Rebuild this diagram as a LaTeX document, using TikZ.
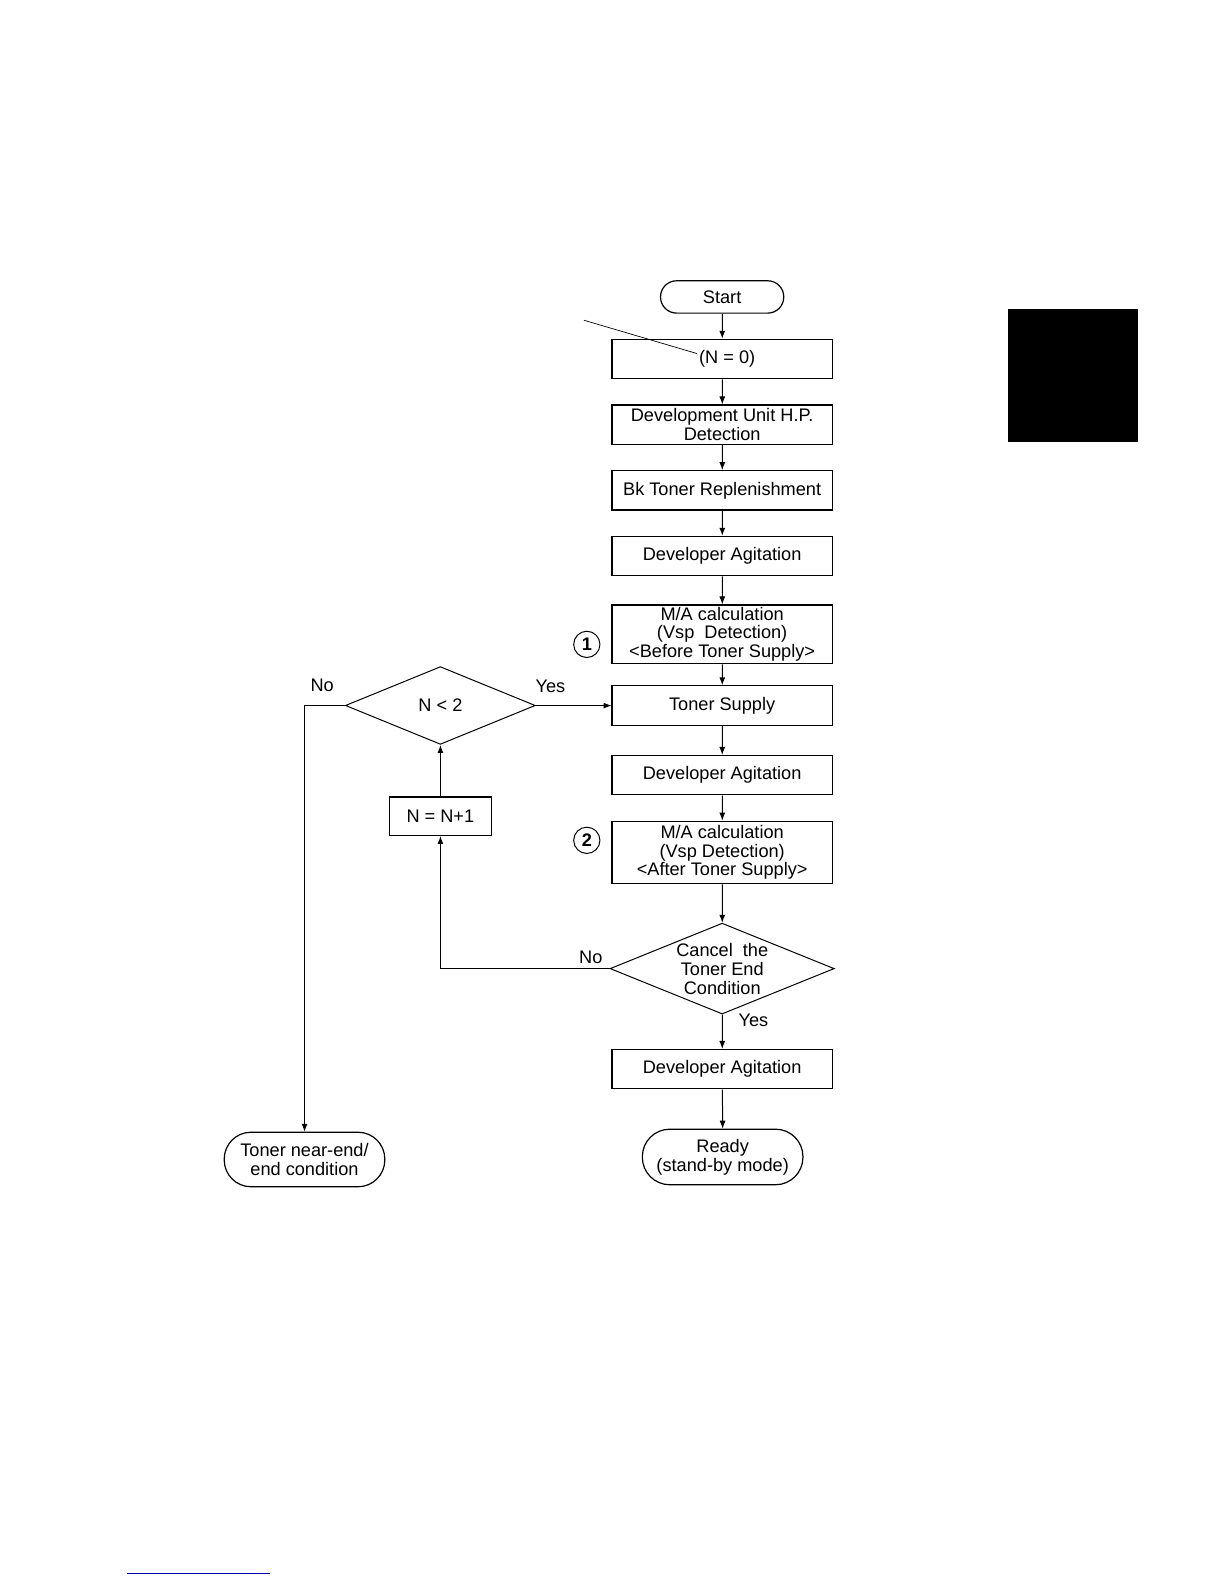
\documentclass[tikz,border=0pt]{standalone}
\usepackage{fontspec}
\setmainfont{Liberation Sans}
\usetikzlibrary{shapes.geometric,arrows.meta}
\begin{document}
\begin{tikzpicture}[x=0.5pt,y=-0.5pt,scale=1.01,transform shape,
  every node/.style={font=\fontsize{9}{9.3}\selectfont},
  procbox/.style={draw,line width=0.6pt,rectangle,minimum width=109pt,minimum height=19.5pt,inner sep=0pt,align=center},
  tallbox/.style={procbox,minimum height=29pt},
  term/.style={draw,line width=0.6pt,rectangle,inner sep=0pt,align=center},
  decision/.style={draw,line width=0.5pt,diamond,inner sep=0pt},
  numcirc/.style={draw,circle,line width=0.5pt,minimum size=13pt,inner sep=0pt,font=\bfseries\fontsize{9}{9}\selectfont},
  flow/.style={line width=0.5pt,-{Latex[length=4pt,width=3pt]}},
  lbl/.style={inner sep=0pt}
]
\useasboundingbox (0,0) rectangle (1211.88,1568.32);
% nodes
\node[term,minimum width=61pt,minimum height=16pt,rounded corners=8pt] (start) at (715,294) {Start};
\node[procbox] (n0) at (715,355.5) {\hspace*{5pt}(N = 0)};
\node[procbox] (hp) at (715,420.5) {Development Unit H.P.\\Detection};
\node[procbox] (bk) at (715,485.5) {Bk Toner Replenishment};
\node[procbox] (ag1) at (715,550.5) {Developer Agitation};
\node[tallbox] (ma1) at (715,628) {M/A calculation\\(Vsp\ \ Detection)\\\textless Before Toner Supply\textgreater};
\node[procbox] (ts) at (715,698.5) {Toner Supply};
\node[procbox] (ag2) at (715,767.5) {Developer Agitation};
\node[tallbox,minimum height=31pt] (ma2) at (715,844) {M/A calculation\\(Vsp Detection)\\\textless After Toner Supply\textgreater};
\node[procbox] (ag3) at (715,1058.5) {Developer Agitation};
\node[term,minimum width=79.5pt,minimum height=27.5pt,rounded corners=13.7pt] (ready) at (715.5,1145.5) {Ready\\(stand-by mode)};
\node[term,minimum width=79.5pt,minimum height=27pt,rounded corners=13.4pt] (tn) at (301.5,1148) {Toner near-end/\\end condition};
\node[decision,minimum width=94pt,minimum height=38.5pt,label={center:N \textless{} 2}] (d1) at (436,698.5) {};
\node[decision,minimum width=111pt,minimum height=45pt,label={[align=center,font=\fontsize{9}{9.3}\selectfont]center:{Cancel\ \ the\\Toner End\\Condition}}] (d2) at (715,959) {};
\node[procbox,minimum width=50.5pt,minimum height=19pt] (inc) at (436,808) {N = N+1};
\node[numcirc] (c1) at (581,638) {1};
\node[numcirc] (c2) at (581,832) {2};
% labels
\node[lbl] (lno1) at (319,679) {No};
\node[lbl] (lyes1) at (545,680) {Yes};
\node[lbl] (lno2) at (585,948) {No};
\node[lbl] (lyes2) at (746,1010) {Yes};
% connectors
\draw[flow] (start) -- (n0);
\draw[flow] (n0) -- (hp);
\draw[flow] (hp) -- (bk);
\draw[flow] (bk) -- (ag1);
\draw[flow] (ag1) -- (ma1);
\draw[flow] (ma1) -- (ts);
\draw[flow] (ts) -- (ag2);
\draw[flow] (ag2) -- (ma2);
\draw[flow] (ma2) -- (d2.north);
\draw[flow] (d2.south) -- (ag3);
\draw[flow] (ag3) -- (ready);
\draw[flow] (d1.east) -- (ts.west);
\draw[flow] (d1.west) -| (tn.north);
\draw[flow] (d2.west) -| (inc.south);
\draw[flow] (inc.north) -- (d1.south);
% leader line
\coordinate (leadA) at (578,317);
\coordinate (leadB) at (690,350);
\draw[line width=0.35pt] (leadA) -- (leadB);
% black tab
\fill[black] (998,306) rectangle (1127,438);
% underline
\draw[blue!70!black,line width=0.6pt] (126,1558) -- (267,1558);
\end{tikzpicture}
\end{document}
